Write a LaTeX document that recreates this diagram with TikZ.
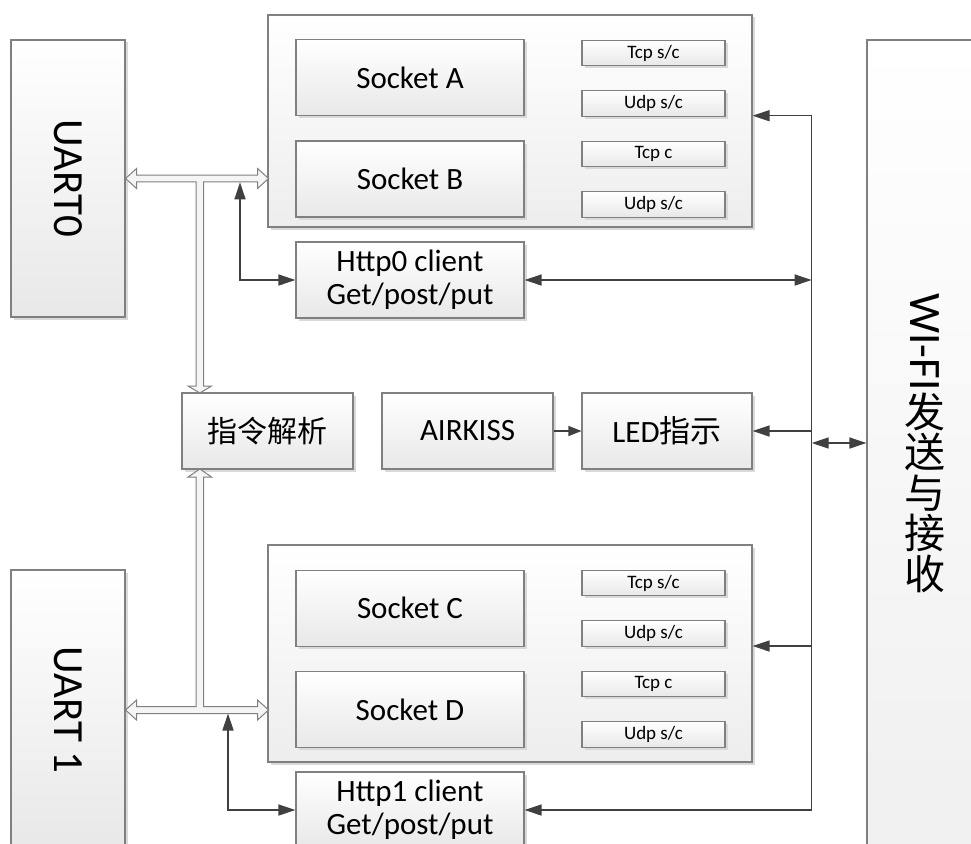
\documentclass[tikz,border=0pt]{standalone}
\usepackage{fontspec}
\setmainfont{Carlito}
\newfontfamily\cjk{Noto Sans CJK SC}
\usetikzlibrary{arrows.meta,shadows,calc}
\begin{document}
\begin{tikzpicture}[x=1pt,y=-1pt,
  box/.style={draw=black!50, line width=1.1pt, top color=white, bottom color=black!9,
    drop shadow={shadow xshift=2.5pt,shadow yshift=-2.5pt,fill=black!15,opacity=1},
    inner sep=0pt, text=black, align=center},
  big/.style={font=\fontsize{31}{33}\selectfont},
  small/.style={font=\fontsize{19}{21}\selectfont},
  conn/.style={draw=black!75, line width=1.4pt},
  tri/.tip={Triangle[length=17pt,width=11pt]},
  stri/.tip={Triangle[length=13pt,width=10pt]},
  hollow/.style={draw=black!50, line width=1pt, fill=black!4}
]
\clip (0,0) rectangle (971,843);
\fill[white] (0,0) rectangle (971,843);

% left UART boxes
\node[box, minimum width=114pt, minimum height=277pt] (uart0) at (68,178.5) {};
\node[rotate=-90, font=\fontsize{43}{45}\selectfont] (uart0t) at (uart0) {UART0};
\node[box, minimum width=114pt, minimum height=280pt] (uart1) at (68,710) {};
\node[rotate=-90, font=\fontsize{43}{45}\selectfont] (uart1t) at (uart1) {UART 1};

% WiFi box
\node[box, minimum width=116pt, minimum height=808pt, top color=white, bottom color=black!6] (wifi) at (925,444) {};
\node[rotate=-90, font=\fontsize{45}{47}\selectfont] (wifil) at (925,342) {WI-FI};
\node[font=\fontsize{41}{40.6}\selectfont\cjk, align=center, anchor=north] (wific) at (925,389) {发\\送\\与\\接\\收};

% socket groups
\node[box, minimum width=484pt, minimum height=212pt, bottom color=black!7] (grpTop) at (510,121) {};
\node[box, big, minimum width=228pt, minimum height=75.7pt] (sockA) at (410,77.8) {Socket A};
\node[box, big, minimum width=228pt, minimum height=76pt] (sockB) at (410,179) {Socket B};
\node[box, small, minimum width=143pt, minimum height=25.5pt] (t1) at (653.5,53) {Tcp s/c};
\node[box, small, minimum width=143pt, minimum height=25.5pt] (u1) at (653.5,103.5) {Udp s/c};
\node[box, small, minimum width=143pt, minimum height=25.5pt] (t2) at (653.5,154) {Tcp c};
\node[box, small, minimum width=143pt, minimum height=25.5pt] (u2) at (653.5,204.5) {Udp s/c};

\node[box, minimum width=484pt, minimum height=217pt, bottom color=black!7] (grpBot) at (510,653.5) {};
\node[box, big, minimum width=228pt, minimum height=75.7pt] (sockC) at (410,608.3) {Socket C};
\node[box, big, minimum width=228pt, minimum height=76pt] (sockD) at (410,709.5) {Socket D};
\node[box, small, minimum width=143pt, minimum height=25.5pt] (t3) at (653.5,583) {Tcp s/c};
\node[box, small, minimum width=143pt, minimum height=25.5pt] (u3) at (653.5,633.5) {Udp s/c};
\node[box, small, minimum width=143pt, minimum height=25.5pt] (t4) at (653.5,684) {Tcp c};
\node[box, small, minimum width=143pt, minimum height=25.5pt] (u4) at (653.5,734.5) {Udp s/c};

% http clients
\node[box, big, minimum width=228pt, minimum height=76pt] (http0) at (410,280) {Http0 client\\Get/post/put};
\node[box, big, minimum width=228pt, minimum height=76pt] (http1) at (410,810) {Http1 client\\Get/post/put};

% middle row
\node[box, minimum width=171pt, minimum height=76pt, font=\fontsize{30}{32}\selectfont\cjk] (cmd) at (267.5,431) {指令解析};
\node[box, big, minimum width=171pt, minimum height=76pt] (air) at (467.5,431) {AIRKISS};
\node[box, big, minimum width=170pt, minimum height=76pt] (led) at (667,431) {LED{\cjk 指示}};

% hollow bus arrows
\begin{scope}[shift={(uart0.east)}]
\draw[hollow] (0,0) -- (11,-10) -- (11,-3.3) -- (132,-3.3) -- (132,-10) -- (143,0) -- (132,10) -- (132,3.3)
  -- (78,3.3) -- (78,207.5) -- (86,207.5) -- (74.3,214.5) -- (62.5,207.5) -- (70.5,207.5) -- (70.5,3.3)
  -- (11,3.3) -- (11,10) -- cycle;
\end{scope}
\begin{scope}[shift={(uart1.east)}]
\draw[hollow] (0,0) -- (11,-10) -- (11,-3.5) -- (70.5,-3.5) -- (70.5,-233) -- (62.5,-233) -- (74.3,-241)
  -- (86,-233) -- (78,-233) -- (78,-3.5) -- (132,-3.5) -- (132,-10) -- (143,0) -- (132,10) -- (132,3.5)
  -- (11,3.5) -- (11,10) -- cycle;
\end{scope}

% dark connectors on the left
\coordinate (d0) at (240,182.3);
\coordinate (d1) at (228,713.5);
\draw[conn, {tri}-{tri}] (d0) |- (http0.west);
\draw[conn, {tri}-{tri}] (d1) |- (http1.west);

% right-hand bus
\coordinate (busT) at (811.7,115.7);
\coordinate (busB) at (811.7,810);
\coordinate (busW) at (811.7,443);
\coordinate (busC) at (811.7,646);
\draw[conn] (busT) -- (busB);
\draw[conn, -{tri}] (busT) -- (busT -| grpTop.east);
\draw[conn, {tri}-{tri}] (http0.east) -- (http0.east -| busT);
\draw[conn, -{tri}] (led.east -| busT) -- (led.east);
\draw[conn, {tri}-{tri}] (busW) -- (busW -| wifi.west);
\draw[conn, -{tri}] (busC) -- (busC -| grpBot.east);
\draw[conn, -{tri}] (busB) -- (http1.east);

% AIRKISS -> LED
\draw[conn, -{stri}] (air.east) -- (led.west);
\end{tikzpicture}
\end{document}
